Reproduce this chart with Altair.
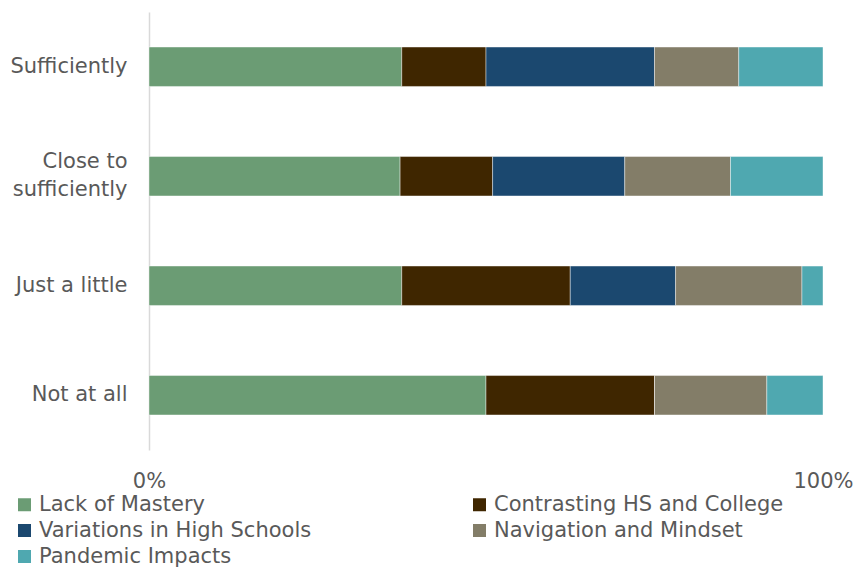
import altair as alt
import pandas as pd

categories = ["Sufficiently", "Close to\nsufficiently", "Just a little", "Not at all"]
series = ["Lack of Mastery", "Contrasting HS and College", "Variations in High Schools",
          "Navigation and Mindset", "Pandemic Impacts"]
colors = ["#6B9C74", "#3F2600", "#1B486F", "#837D68", "#4FA8B0"]

lack_of_mastery = [3, 19, 12, 6]
contrasting = [1, 7, 8, 3]
variations = [2, 10, 5, 0]
navigation = [1, 8, 6, 2]
pandemic = [1, 7, 1, 1]

values = [lack_of_mastery, contrasting, variations, navigation, pandemic]
rows = []
for si, s in enumerate(series):
    for ci, c in enumerate(categories):
        rows.append({"category": c, "series": s, "value": values[si][ci], "order": si})
df = pd.DataFrame(rows)

FONT = "DejaVu Sans"
TXT = "#595959"

chart = alt.Chart(df).mark_bar(stroke="#ffffff", strokeWidth=0.6, strokeOpacity=0.7).encode(
    y=alt.Y("category:N", sort=categories, title=None,
            scale=alt.Scale(paddingInner=0.64, paddingOuter=0.32),
            axis=alt.Axis(labelExpr="split(datum.label, '\\n')", labelFont=FONT, labelFontSize=21,
                          labelColor=TXT, labelPadding=22, ticks=False, domainColor="#d9d9d9",
                          domainWidth=1.5, labelLineHeight=28, labelLimit=300,
                          labelOffset=alt.condition("indexof(datum.value, 'Close') >= 0",
                                                    alt.value(-14), alt.value(0)))),
    x=alt.X("value:Q", stack="normalize", title=None,
            scale=alt.Scale(domain=[0, 1], nice=False),
            axis=alt.Axis(values=[0, 1], format="%", grid=False, domain=False, ticks=False,
                          labelFont=FONT, labelFontSize=21, labelColor=TXT, labelPadding=20,
                          labelFlush=False)),
    color=alt.Color("series:N", sort=series, scale=alt.Scale(domain=series, range=colors),
                    legend=alt.Legend(title=None, orient="none", legendX=-135, legendY=482,
                                      columns=2, columnPadding=157, rowPadding=4,
                                      symbolType="square", symbolSize=169, symbolStrokeWidth=0,
                                      labelFont=FONT, labelFontSize=21, labelColor=TXT,
                                      labelOffset=4, labelLimit=400, direction="horizontal")),
    order=alt.Order("order:Q"),
).properties(
    width=674, height=438,
    padding={"left": 149, "top": 12, "right": 34, "bottom": 120},
    autosize=alt.AutoSizeParams(type="none"),
).configure_view(stroke=None)

chart.save("out.html", embed_options={"renderer": "svg", "actions": False})
